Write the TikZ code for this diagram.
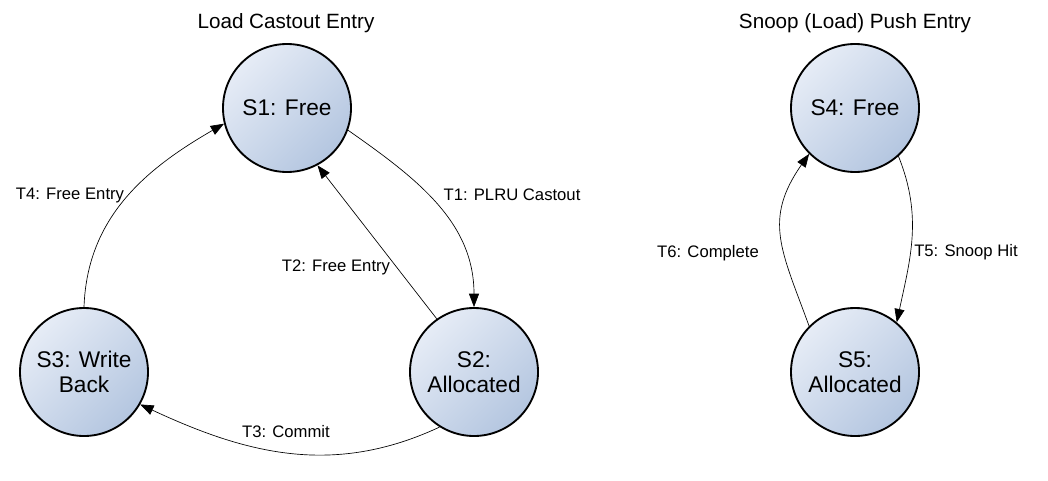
\documentclass[tikz,border=0pt]{standalone}
\usepackage{fontspec}
\setmainfont{Liberation Sans}
\usetikzlibrary{arrows.meta}

\definecolor{stlight}{HTML}{E6ECF6}
\definecolor{stdark}{HTML}{B4C6E0}

\tikzset{
    stnode/.style={circle, draw=black, line width=1.4pt, minimum size=96pt, inner sep=0pt,
        align=center, font=\fontsize{17}{19}\selectfont,
        left color=stlight, right color=stdark, shading angle=45},
    trans/.style={-{Triangle[length=10pt,width=7.5pt]}, line width=0.5pt},
    lbl/.style={font=\fontsize{12.5}{14}\selectfont, inner sep=1pt},
    ttl/.style={font=\fontsize{15.5}{17}\selectfont}
}

\begin{document}
\begin{tikzpicture}[x=0.75pt, y=0.75pt]
            \useasboundingbox (0,0) rectangle (1048,480);
            \node[ttl] (ttla) at (286,457) {Load Castout Entry};
            \node[ttl] (ttlb) at (855,457) {Snoop (Load) Push Entry};
            \node[stnode] (s1) at (287,372) {S1: Free};
            \node[stnode] (s2) at (474,108) {S2:\\Allocated};
            \node[stnode] (s3) at (84,108) {S3: Write\\Back};
            \node[stnode] (s4) at (855,372) {S4: Free};
            \node[stnode] (s5) at (855,108) {S5:\\Allocated};
            \node[lbl] (t1) at (512,285) {T1: PLRU Castout};
            \node[lbl] (t2) at (336,213) {T2: Free Entry};
            \node[lbl] (t3) at (286,48) {T3: Commit};
            \node[lbl] (t4) at (70,285) {T4: Free Entry};
            \node[lbl] (t5) at (966,228) {T5: Snoop Hit};
            \node[lbl] (t6) at (708,227) {T6: Complete};
            \draw[trans] (s4.-48) to[out=-68, in=78] (s5.50);
            \draw[trans] (s5.135) to[out=110, in=-125, looseness=1.2] (s4.-135);
            \draw[trans] (s1.-20) to[out=-35, in=90] (s2.90);
            \draw[trans] (s2.125) -- (s1.-62);
            \draw[trans] (s2.-122) to[out=-155, in=-25] (s3.-30);
            \draw[trans] (s3.90) to[out=88, in=-150] (s1.-166);
\end{tikzpicture}
\end{document}
